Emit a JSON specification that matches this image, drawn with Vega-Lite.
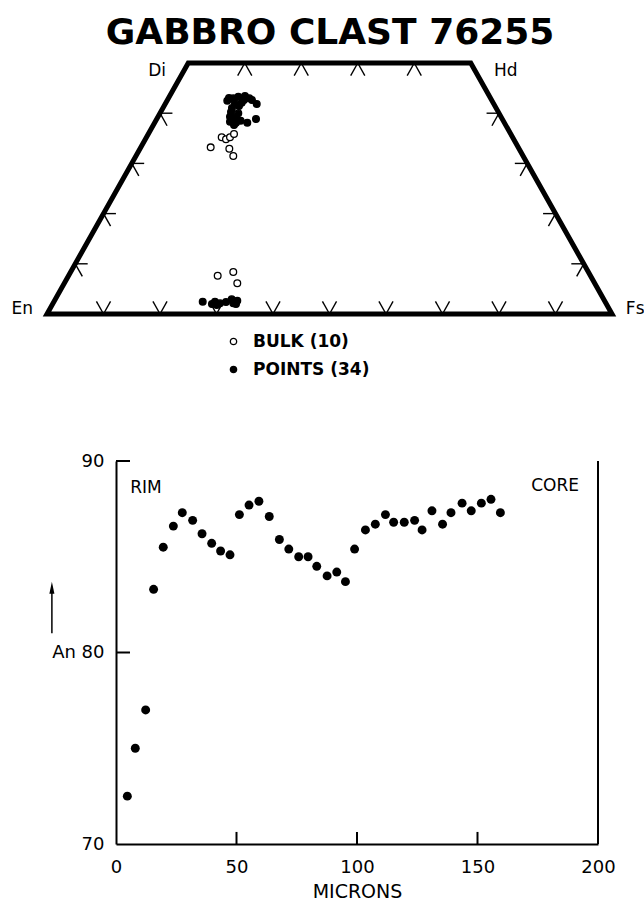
{
 "$schema": "https://vega.github.io/schema/vega-lite/v6.json",
 "width": 644,
 "height": 907,
 "autosize": {"type": "none"},
 "padding": 0,
 "background": "white",
 "config": {"view": {"stroke": null}, "font": "DejaVu Sans", "text": {"color": "black"}},
 "datasets": {
  "outline": [
   {"X": 50, "Y": 0, "o": 0}, {"X": 100, "Y": 0, "o": 1}, {"X": 75, "Y": 50, "o": 2},
   {"X": 25, "Y": 50, "o": 3}, {"X": 0, "Y": 0, "o": 4}, {"X": 50, "Y": 0, "o": 5}
  ],
  "ticks": [
   {"X": 10, "Y": 0, "X2": 8.75, "Y2": 2.5}, {"X": 10, "Y": 0, "X2": 11.25, "Y2": 2.5},
   {"X": 20, "Y": 0, "X2": 18.75, "Y2": 2.5}, {"X": 20, "Y": 0, "X2": 21.25, "Y2": 2.5},
   {"X": 30, "Y": 0, "X2": 28.75, "Y2": 2.5}, {"X": 30, "Y": 0, "X2": 31.25, "Y2": 2.5},
   {"X": 40, "Y": 0, "X2": 38.75, "Y2": 2.5}, {"X": 40, "Y": 0, "X2": 41.25, "Y2": 2.5},
   {"X": 50, "Y": 0, "X2": 48.75, "Y2": 2.5}, {"X": 50, "Y": 0, "X2": 51.25, "Y2": 2.5},
   {"X": 60, "Y": 0, "X2": 58.75, "Y2": 2.5}, {"X": 60, "Y": 0, "X2": 61.25, "Y2": 2.5},
   {"X": 70, "Y": 0, "X2": 68.75, "Y2": 2.5}, {"X": 70, "Y": 0, "X2": 71.25, "Y2": 2.5},
   {"X": 80, "Y": 0, "X2": 78.75, "Y2": 2.5}, {"X": 80, "Y": 0, "X2": 81.25, "Y2": 2.5},
   {"X": 90, "Y": 0, "X2": 88.75, "Y2": 2.5}, {"X": 90, "Y": 0, "X2": 91.25, "Y2": 2.5},
   {"X": 35, "Y": 50, "X2": 33.75, "Y2": 47.5}, {"X": 35, "Y": 50, "X2": 36.25, "Y2": 47.5},
   {"X": 45, "Y": 50, "X2": 43.75, "Y2": 47.5}, {"X": 45, "Y": 50, "X2": 46.25, "Y2": 47.5},
   {"X": 55, "Y": 50, "X2": 53.75, "Y2": 47.5}, {"X": 55, "Y": 50, "X2": 56.25, "Y2": 47.5},
   {"X": 65, "Y": 50, "X2": 63.75, "Y2": 47.5}, {"X": 65, "Y": 50, "X2": 66.25, "Y2": 47.5},
   {"X": 5, "Y": 10, "X2": 7.2, "Y2": 10}, {"X": 5, "Y": 10, "X2": 6.25, "Y2": 7.5},
   {"X": 10, "Y": 20, "X2": 12.2, "Y2": 20}, {"X": 10, "Y": 20, "X2": 11.25, "Y2": 17.5},
   {"X": 15, "Y": 30, "X2": 17.2, "Y2": 30}, {"X": 15, "Y": 30, "X2": 16.25, "Y2": 27.5},
   {"X": 20, "Y": 40, "X2": 22.2, "Y2": 40}, {"X": 20, "Y": 40, "X2": 21.25, "Y2": 37.5},
   {"X": 95, "Y": 10, "X2": 92.8, "Y2": 10}, {"X": 95, "Y": 10, "X2": 93.75, "Y2": 7.5},
   {"X": 90, "Y": 20, "X2": 87.8, "Y2": 20}, {"X": 90, "Y": 20, "X2": 88.75, "Y2": 17.5},
   {"X": 85, "Y": 30, "X2": 82.8, "Y2": 30}, {"X": 85, "Y": 30, "X2": 83.75, "Y2": 27.5},
   {"X": 80, "Y": 40, "X2": 77.8, "Y2": 40}, {"X": 80, "Y": 40, "X2": 78.75, "Y2": 37.5}
  ],
  "pyx": [
   {"kind": "BULK (10)", "X": 28.97, "Y": 33.2},
   {"kind": "BULK (10)", "X": 30.92, "Y": 35.2},
   {"kind": "BULK (10)", "X": 31.68, "Y": 34.8},
   {"kind": "BULK (10)", "X": 32.39, "Y": 35.2},
   {"kind": "BULK (10)", "X": 33.1, "Y": 35.86},
   {"kind": "BULK (10)", "X": 32.27, "Y": 32.93},
   {"kind": "BULK (10)", "X": 32.97, "Y": 31.47},
   {"kind": "BULK (10)", "X": 30.21, "Y": 7.63},
   {"kind": "BULK (10)", "X": 32.97, "Y": 8.37},
   {"kind": "BULK (10)", "X": 33.68, "Y": 6.12},
   {"kind": "POINTS (34)", "X": 31.91, "Y": 42.49},
   {"kind": "POINTS (34)", "X": 32.97, "Y": 42.97},
   {"kind": "POINTS (34)", "X": 33.86, "Y": 43.29},
   {"kind": "POINTS (34)", "X": 35.04, "Y": 43.43},
   {"kind": "POINTS (34)", "X": 35.81, "Y": 42.97},
   {"kind": "POINTS (34)", "X": 33.27, "Y": 41.97},
   {"kind": "POINTS (34)", "X": 34.46, "Y": 42.09},
   {"kind": "POINTS (34)", "X": 37.12, "Y": 41.83},
   {"kind": "POINTS (34)", "X": 33.86, "Y": 39.98},
   {"kind": "POINTS (34)", "X": 32.39, "Y": 39.3},
   {"kind": "POINTS (34)", "X": 32.97, "Y": 38.65},
   {"kind": "POINTS (34)", "X": 32.39, "Y": 38.31},
   {"kind": "POINTS (34)", "X": 33.45, "Y": 38.11},
   {"kind": "POINTS (34)", "X": 34.28, "Y": 38.51},
   {"kind": "POINTS (34)", "X": 35.45, "Y": 38.11},
   {"kind": "POINTS (34)", "X": 36.99, "Y": 38.84},
   {"kind": "POINTS (34)", "X": 32.74, "Y": 41.04},
   {"kind": "POINTS (34)", "X": 32.57, "Y": 40.24},
   {"kind": "POINTS (34)", "X": 33.45, "Y": 39.24},
   {"kind": "POINTS (34)", "X": 34.87, "Y": 42.61},
   {"kind": "POINTS (34)", "X": 32.21, "Y": 43.03},
   {"kind": "POINTS (34)", "X": 33.98, "Y": 41.43},
   {"kind": "POINTS (34)", "X": 33.1, "Y": 37.65},
   {"kind": "POINTS (34)", "X": 36.28, "Y": 42.61},
   {"kind": "POINTS (34)", "X": 27.56, "Y": 2.45},
   {"kind": "POINTS (34)", "X": 29.73, "Y": 2.45},
   {"kind": "POINTS (34)", "X": 30.62, "Y": 2.13},
   {"kind": "POINTS (34)", "X": 30.04, "Y": 1.79},
   {"kind": "POINTS (34)", "X": 32.69, "Y": 2.93},
   {"kind": "POINTS (34)", "X": 33.68, "Y": 2.65},
   {"kind": "POINTS (34)", "X": 32.97, "Y": 2.13},
   {"kind": "POINTS (34)", "X": 29.2, "Y": 1.99},
   {"kind": "POINTS (34)", "X": 33.45, "Y": 1.99},
   {"kind": "POINTS (34)", "X": 31.68, "Y": 2.39}
  ],
  "corners": [
   {"t": "Di", "X": 19.5, "Y": 48.4},
   {"t": "Hd", "X": 81.2, "Y": 48.4},
   {"t": "En", "X": -4.4, "Y": 1.0},
   {"t": "Fs", "X": 104.1, "Y": 1.0}
  ],
  "title": [{"t": "GABBRO CLAST 76255", "X": 50.1, "Y": 53.8}],
  "an": [
   {"m": 4.7, "an": 72.5}, {"m": 8.0, "an": 75.0}, {"m": 12.3, "an": 77.0}, {"m": 15.6, "an": 83.3},
   {"m": 19.6, "an": 85.5}, {"m": 23.8, "an": 86.6}, {"m": 27.5, "an": 87.3}, {"m": 31.8, "an": 86.9},
   {"m": 35.7, "an": 86.2}, {"m": 39.7, "an": 85.7}, {"m": 43.4, "an": 85.3}, {"m": 47.3, "an": 85.1},
   {"m": 51.2, "an": 87.2}, {"m": 55.2, "an": 87.7}, {"m": 59.3, "an": 87.9}, {"m": 63.6, "an": 87.1},
   {"m": 67.8, "an": 85.9}, {"m": 71.7, "an": 85.4}, {"m": 75.8, "an": 85.0}, {"m": 79.7, "an": 85.0},
   {"m": 83.3, "an": 84.5}, {"m": 87.6, "an": 84.0}, {"m": 91.6, "an": 84.2}, {"m": 95.2, "an": 83.7},
   {"m": 99.0, "an": 85.4}, {"m": 103.5, "an": 86.4}, {"m": 107.6, "an": 86.7}, {"m": 111.8, "an": 87.2},
   {"m": 115.2, "an": 86.8}, {"m": 119.6, "an": 86.8}, {"m": 123.9, "an": 86.9}, {"m": 127.0, "an": 86.4},
   {"m": 131.1, "an": 87.4}, {"m": 135.5, "an": 86.7}, {"m": 139.0, "an": 87.3}, {"m": 143.6, "an": 87.8},
   {"m": 147.4, "an": 87.4}, {"m": 151.6, "an": 87.8}, {"m": 155.6, "an": 88.0}, {"m": 159.5, "an": 87.3}
  ],
  "frame": [{"m": 200, "an": 70, "m2": 200, "an2": 90}],
  "aticks": [
   {"m": 50, "an": 70, "m2": 50, "an2": 70.63},
   {"m": 100, "an": 70, "m2": 100, "an2": 70.63},
   {"m": 150, "an": 70, "m2": 150, "an2": 70.63},
   {"m": 0, "an": 80, "m2": 5.8, "an2": 80},
   {"m": 0, "an": 90, "m2": 5.8, "an2": 90}
  ],
  "ends": [{"t": "RIM", "m": 12.45, "an": 88.59}, {"t": "CORE", "m": 182.2, "an": 88.69}],
  "arrow": [{"m": -26.6, "an": 81.0, "m2": -26.6, "an2": 83.4}],
  "arrowhead": [{"m": -26.6, "an": 83.38}]
 },
 "layer": [
  {
   "encoding": {
    "x": {"field": "X", "type": "quantitative", "scale": {"domain": [0, 100], "range": [47, 612], "nice": false, "zero": false}, "axis": null},
    "y": {"field": "Y", "type": "quantitative", "scale": {"domain": [0, 50], "range": [314, 63], "nice": false, "zero": false}, "axis": null}
   },
   "layer": [
    {
     "data": {"name": "outline"},
     "mark": {"type": "line", "color": "black", "strokeWidth": 5, "strokeJoin": "miter", "strokeCap": "butt"},
     "encoding": {"order": {"field": "o", "type": "quantitative"}}
    },
    {
     "data": {"name": "ticks"},
     "mark": {"type": "rule", "color": "black", "strokeWidth": 1.4},
     "encoding": {"x2": {"field": "X2"}, "y2": {"field": "Y2"}}
    },
    {
     "data": {"name": "pyx"},
     "mark": {"type": "point", "filled": true, "shape": "circle", "stroke": "black", "strokeWidth": 1.3, "size": 45, "opacity": 1},
     "encoding": {
      "fill": {
       "field": "kind", "type": "nominal",
       "scale": {"domain": ["BULK (10)", "POINTS (34)"], "range": ["white", "black"]},
       "legend": {
        "orient": "none", "legendX": 225, "legendY": 333, "title": null, "padding": 0,
        "labelFont": "DejaVu Sans", "labelFontSize": 17, "labelFontWeight": "bold", "labelColor": "black",
        "labelOffset": 11, "symbolType": "circle", "symbolSize": 40, "symbolStrokeColor": "black",
        "symbolStrokeWidth": 1.3, "rowPadding": 10, "symbolOpacity": 1
       }
      }
     }
    },
    {
     "data": {"name": "corners"},
     "mark": {"type": "text", "fontSize": 17, "baseline": "middle", "align": "center", "color": "black"},
     "encoding": {"text": {"field": "t"}}
    },
    {
     "data": {"name": "title"},
     "mark": {"type": "text", "fontSize": 36, "fontWeight": "bold", "baseline": "alphabetic", "align": "center", "color": "black"},
     "encoding": {"text": {"field": "t"}}
    }
   ]
  },
  {
   "encoding": {
    "x": {
     "field": "m", "type": "quantitative",
     "scale": {"domain": [0, 200], "range": [116, 598], "nice": false, "zero": false},
     "axis": {
      "orient": "bottom", "offset": -63, "values": [0, 50, 100, 150, 200], "grid": false,
      "ticks": false, "domainColor": "black", "domainWidth": 2,
      "labelFont": "DejaVu Sans", "labelFontSize": 18, "labelColor": "black", "labelPadding": 14,
      "labelFlush": false, "labelOverlap": false, "labelBound": false,
      "title": "MICRONS", "titleFont": "DejaVu Sans", "titleFontSize": 19, "titleFontWeight": "normal",
      "titleColor": "black", "titlePadding": 6
     }
    },
    "y": {
     "field": "an", "type": "quantitative",
     "scale": {"domain": [70, 90], "range": [844, 461], "nice": false, "zero": false},
     "axis": {
      "orient": "left", "offset": -116, "values": [70, 80, 90], "grid": false,
      "ticks": false, "domainColor": "black", "domainWidth": 2,
      "labelFont": "DejaVu Sans", "labelFontSize": 18, "labelColor": "black", "labelPadding": 12,
      "labelFlush": false, "labelOverlap": false, "labelBound": false,
      "labelExpr": "datum.value == 80 ? 'An 80' : datum.label",
      "title": null
     }
    }
   },
   "layer": [
    {
     "data": {"name": "an"},
     "mark": {"type": "point", "filled": true, "shape": "circle", "color": "black", "size": 80, "opacity": 1}
    },
    {
     "data": {"name": "frame"},
     "mark": {"type": "rule", "color": "black", "strokeWidth": 2},
     "encoding": {"x2": {"field": "m2"}, "y2": {"field": "an2"}}
    },
    {
     "data": {"name": "aticks"},
     "mark": {"type": "rule", "color": "black", "strokeWidth": 2},
     "encoding": {"x2": {"field": "m2"}, "y2": {"field": "an2"}}
    },
    {
     "data": {"name": "ends"},
     "mark": {"type": "text", "fontSize": 17, "baseline": "middle", "align": "center", "color": "black"},
     "encoding": {"text": {"field": "t"}}
    },
    {
     "data": {"name": "arrow"},
     "mark": {"type": "rule", "color": "black", "strokeWidth": 1.5},
     "encoding": {"x2": {"field": "m2"}, "y2": {"field": "an2"}}
    },
    {
     "data": {"name": "arrowhead"},
     "mark": {"type": "point", "filled": true, "color": "black", "size": 144, "shape": "M0,-1L0.42,1L-0.42,1Z", "opacity": 1}
    }
   ]
  }
 ],
 "resolve": {"scale": {"x": "independent", "y": "independent"}}
}
